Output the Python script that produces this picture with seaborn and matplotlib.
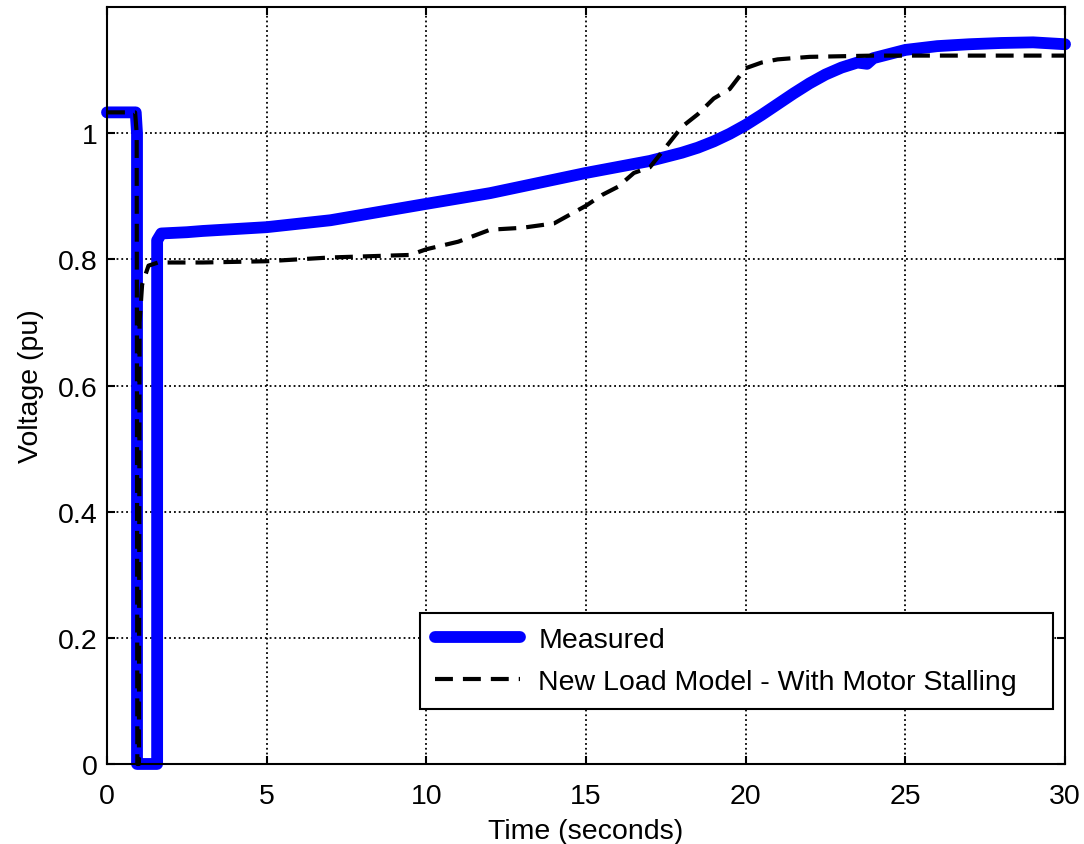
import matplotlib
matplotlib.use("Agg")
import matplotlib.pyplot as plt
import seaborn as sns
import pandas as pd

# measured voltage (pu) vs time (s)
t_meas = [0, 0.9, 0.94, 0.94, 1.57, 1.57, 1.7, 2.5, 3, 5, 7, 10, 12, 15, 17, 18, 18.5,
          19, 19.5, 20, 20.5, 21, 21.5, 22, 22.5, 23, 23.5, 23.8, 24, 25, 26, 27, 28, 29, 30]
v_meas = [1.033, 1.033, 1.0, 0.0, 0.0, 0.83, 0.841, 0.843, 0.845, 0.851, 0.862, 0.888,
          0.905, 0.937, 0.956, 0.969, 0.977, 0.987, 0.999, 1.013, 1.029, 1.046, 1.063,
          1.079, 1.093, 1.104, 1.112, 1.110, 1.119, 1.132, 1.138, 1.141, 1.143, 1.144, 1.141]

# new load model with motor stalling
t_model = [0, 0.88, 0.93, 0.95, 1.0, 1.02, 1.1, 1.3, 1.6, 3, 5, 7, 9.5, 10, 11, 12, 13,
           14, 15, 15.5, 16, 16.5, 17, 17.5, 18, 18.5, 19, 19.5, 20, 20.5, 21, 22, 24, 30]
v_model = [1.033, 1.033, 1.0, 0.0, 0.0, 0.70, 0.76, 0.79, 0.795, 0.795, 0.797, 0.803,
           0.807, 0.816, 0.828, 0.847, 0.850, 0.857, 0.885, 0.902, 0.915, 0.937, 0.946,
           0.978, 1.010, 1.030, 1.055, 1.070, 1.103, 1.112, 1.117, 1.121, 1.123, 1.123]

x_ticks = [0, 5, 10, 15, 20, 25, 30]
y_ticks = [0, 0.2, 0.4, 0.6, 0.8, 1.0]
y_tick_labels = ["0", "0.2", "0.4", "0.6", "0.8", "1"]

df_meas = pd.DataFrame({"t": t_meas, "v": v_meas})
df_model = pd.DataFrame({"t": t_model, "v": v_model})

sns.set_theme(style="ticks")
plt.rcParams["font.family"] = ["Liberation Sans", "DejaVu Sans"]
plt.rcParams["text.color"] = "black"
plt.rcParams["axes.labelcolor"] = "black"

fig, ax = plt.subplots(figsize=(10.84, 8.45), dpi=100)
fig.subplots_adjust(left=0.0987, right=0.9825, top=0.9905, bottom=0.0947)

sns.lineplot(data=df_meas, x="t", y="v", ax=ax, estimator=None, sort=False,
             color="#0000FF", lw=8.5, label="Measured", solid_capstyle="round",
             solid_joinstyle="round", clip_on=False)
sns.lineplot(data=df_model, x="t", y="v", ax=ax, estimator=None, sort=False,
             color="black", lw=3, label="New Load Model - With Motor Stalling",
             dashes=False, clip_on=False)
ax.lines[1].set_dashes([4.3, 2.4])

ax.set_xlim(0, 30)
ax.set_ylim(0, 1.2)
ax.set_xticks(x_ticks)
ax.set_yticks(y_ticks)
ax.set_yticklabels(y_tick_labels)
ax.grid(True, linestyle=":", color="black", linewidth=1.3)
ax.tick_params(direction="in", length=6, width=1.5, labelsize=20.5, pad=7,
               top=True, right=True, colors="black")
ax.tick_params(axis="x", pad=14)
for s in ax.spines.values():
    s.set_visible(True)
    s.set_linewidth(1.5)
    s.set_color("black")

ax.set_xlabel("Time (seconds)", fontsize=20.5, labelpad=6)
ax.set_ylabel("Voltage (pu)", fontsize=20.5, labelpad=10)

# wide box, entries left aligned (matlab style)
leg = ax.legend(loc="lower left", bbox_to_anchor=(0.327, 0.0727, 0.6605, 0.12),
                mode="expand", borderaxespad=0, fontsize=20.5, handlelength=3.0,
                handletextpad=0.65, fancybox=False, framealpha=1, edgecolor="black",
                borderpad=0.5, labelspacing=0.55)
leg.get_frame().set_linewidth(1.5)

fig.savefig("out.png", dpi=100)
